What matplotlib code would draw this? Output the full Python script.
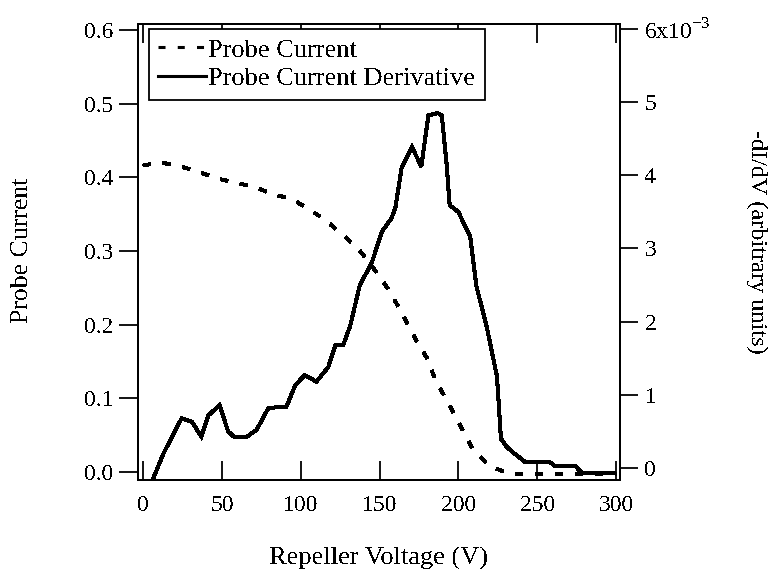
import matplotlib
matplotlib.use('Agg')
import matplotlib.pyplot as plt
from matplotlib.lines import Line2D
import numpy as np

# repeller voltage (V) and probe current
probe_v = [0, 5, 14, 25, 37, 48, 60, 71, 82, 94, 105, 115, 125, 132, 138, 147,
           155, 162, 168, 174, 180, 186, 192, 200, 209, 220, 232, 245, 260, 280, 300]
probe_i = [0.416, 0.418, 0.419, 0.414, 0.406, 0.398, 0.392, 0.387, 0.377, 0.371,
           0.357, 0.343, 0.325, 0.312, 0.299, 0.274, 0.250, 0.224, 0.200, 0.176,
           0.155, 0.122, 0.100, 0.068, 0.031, 0.008, -0.002, -0.003, -0.003, -0.003, -0.003]

# derivative -dI/dV in units of 1e-3
deriv_v = [6.5, 13, 18, 24.5, 31, 37, 41.5, 48.5, 54, 57.5, 66, 72, 79.5, 91, 96.5,
           102.5, 110, 117.5, 122, 127, 131.5, 137.5, 145, 151.5, 157.5, 160, 164,
           170.5, 176.5, 181, 187, 189.5, 192.5, 194.5, 200, 207.5, 211.5, 218, 224.5,
           227, 231, 236, 242.5, 258, 261, 274, 278.5, 298.5]
deriv_d = [-0.14, 0.20, 0.41, 0.68, 0.63, 0.43, 0.72, 0.86, 0.50, 0.43, 0.43, 0.52,
           0.82, 0.84, 1.13, 1.27, 1.18, 1.38, 1.68, 1.68, 1.95, 2.50, 2.80, 3.23, 3.41,
           3.55, 4.10, 4.39, 4.12, 4.82, 4.85, 4.82, 4.16, 3.59, 3.50, 3.16, 2.48, 1.93,
           1.25, 0.40, 0.28, 0.19, 0.08, 0.08, 0.03, 0.03, -0.07, -0.07]

x_ticks = [0, 50, 100, 150, 200, 250, 300]
left_ticks = [0.0, 0.1, 0.2, 0.3, 0.4, 0.5, 0.6]
left_labels = ['0.0', '0.1', '0.2', '0.3', '0.4', '0.5', '0.6']
right_ticks = [0, 1, 2, 3, 4, 5, 6]
right_labels = ['0', '1', '2', '3', '4', '5', r'6x10$^{\mathregular{-3}}$']

plt.rcParams['font.family'] = ['Liberation Serif', 'DejaVu Serif']
plt.rcParams['font.size'] = 17
plt.rcParams['text.antialiased'] = False

fig = plt.figure(figsize=(7.71, 5.77), dpi=100)
ax = fig.add_axes([137.5/771, 1 - 480/577, 482/771, 456.5/577])
ax2 = ax.twinx()

lw = 2.2
ax.plot(probe_v, probe_i, color='black', lw=lw, dashes=(2.3, 4.0),
        dash_capstyle='butt', antialiased=False)
ax2.plot(deriv_v, np.array(deriv_d) * 1e-3, color='black', lw=lw,
         solid_joinstyle='miter', antialiased=False)

ax.set_xlim(-3.5, 302.2)
ax.set_ylim(-0.0109, 0.6088)
ax2.set_ylim(-0.164e-3, 6.075e-3)

ax.set_xticks(x_ticks)
ax.set_yticks(left_ticks)
ax.set_yticklabels(left_labels)
ax2.set_yticks(np.array(right_ticks) * 1e-3)
ax2.set_yticklabels(right_labels)

for a in (ax, ax2):
    for s in a.spines.values():
        s.set_linewidth(1.4)

ax.tick_params(axis='x', direction='in', length=13.5, width=1.3, top=True,
               bottom=True, pad=11)
ax.tick_params(axis='y', direction='out', length=13.5, width=1.3, pad=4)
ax2.tick_params(axis='y', direction='out', length=13, width=1.3, pad=5)

fig.text(22/771, 1 - 250/577, 'Probe Current', rotation=90, ha='center',
         va='center', fontsize=18.5)
fig.text(757/771, 1 - 242/577, '-dI/dV (arbitrary units)', rotation=270,
         ha='center', va='center', fontsize=17.5)
fig.text(378.5/771, 1 - 558/577, 'Repeller Voltage (V)', ha='center',
         va='center', fontsize=19)

handles = [Line2D([], [], color='black', lw=lw, dashes=(2.3, 4.0)),
           Line2D([], [], color='black', lw=lw)]
leg = ax2.legend(handles, ['Probe Current', 'Probe Current Derivative'],
                 loc='upper left', bbox_to_anchor=(149/771, 1 - 29/577),
                 bbox_transform=fig.transFigure, borderaxespad=0,
                 fancybox=False, framealpha=1, edgecolor='black',
                 fontsize=19, handlelength=1.82, handletextpad=0.08,
                 borderpad=0.35, labelspacing=0.2)
leg.get_frame().set_linewidth(1.3)

fig.savefig('out.png', dpi=100)
